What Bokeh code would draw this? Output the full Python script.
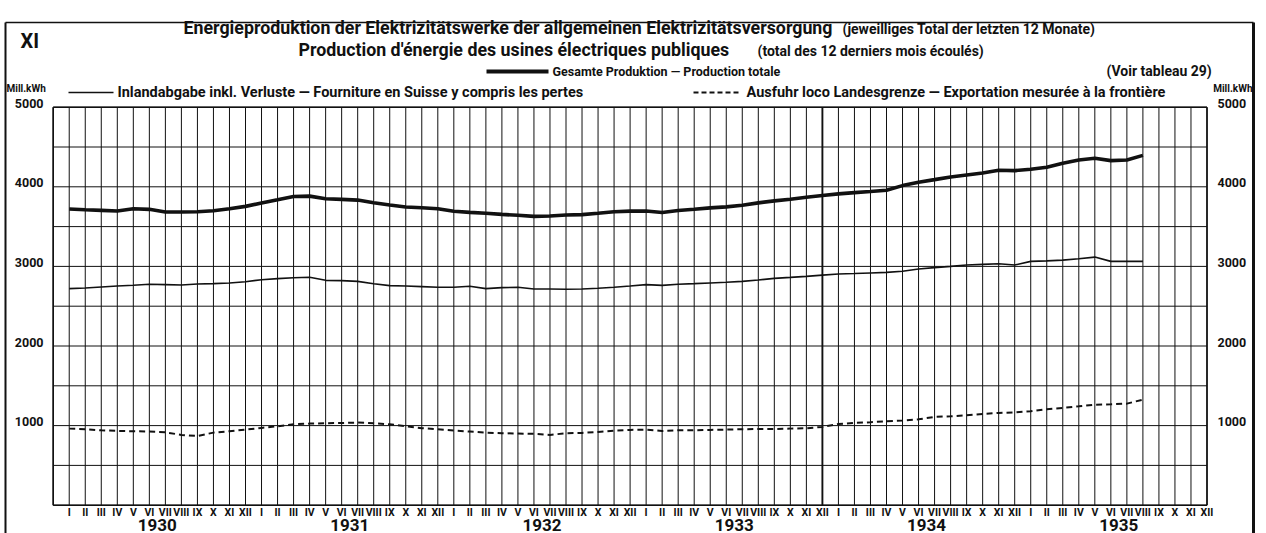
from bokeh.plotting import figure
from bokeh.models import Range1d
from bokeh.core.properties import value
from bokeh.embed import file_html
from bokeh.resources import INLINE

# ---------------- data (Mill. kWh, total of last 12 months) ----------------
month_names = ["I", "II", "III", "IV", "V", "VI", "VII", "VIII", "IX", "X", "XI", "XII"]
years = ["1930", "1931", "1932", "1933", "1934", "1935"]

# Jan 1930 .. Aug 1935 (68 months)
total = [3721, 3712, 3704, 3696, 3725, 3717, 3683, 3683, 3687, 3700, 3725, 3754,
         3796, 3837, 3879, 3883, 3850, 3842, 3833, 3800, 3771, 3746, 3737, 3725,
         3692, 3679, 3667, 3654, 3642, 3629, 3633, 3646, 3650, 3667, 3687, 3695,
         3695, 3677, 3702, 3718, 3735, 3748, 3768, 3798, 3823, 3844, 3869, 3890,
         3911, 3927, 3940, 3957, 4015, 4057, 4090, 4124, 4149, 4174, 4207, 4203,
         4220, 4245, 4295, 4337, 4358, 4329, 4337, 4395]
inland = [2721, 2729, 2742, 2754, 2763, 2775, 2771, 2767, 2779, 2783, 2792, 2808,
          2833, 2846, 2858, 2863, 2825, 2821, 2812, 2783, 2758, 2754, 2746, 2738,
          2738, 2750, 2721, 2733, 2738, 2717, 2717, 2713, 2717, 2725, 2738, 2754,
          2771, 2762, 2775, 2783, 2792, 2800, 2812, 2829, 2850, 2862, 2875, 2890,
          2904, 2910, 2918, 2925, 2940, 2967, 2985, 3000, 3017, 3025, 3033, 3017,
          3063, 3070, 3079, 3096, 3117, 3063, 3063, 3063]
export = [962, 954, 941, 933, 929, 925, 916, 883, 870, 912, 929, 950,
          971, 992, 1017, 1025, 1029, 1033, 1038, 1029, 1017, 992, 967, 954,
          937, 925, 912, 904, 900, 896, 883, 904, 908, 921, 937, 946,
          950, 933, 941, 941, 946, 950, 954, 958, 958, 962, 967, 983,
          1021, 1033, 1042, 1054, 1063, 1079, 1109, 1117, 1130, 1146, 1159, 1167,
          1180, 1205, 1222, 1242, 1263, 1268, 1276, 1326]
y_ticks = [1000, 2000, 3000, 4000, 5000]

# ---------------- geometry ----------------
W, H = 1266, 533
K = 16.025      # px per month
X0 = 52.7       # picture x of month 0
Y0 = 504.7      # picture y of value 0
S = 0.0796      # px per Mill. kWh
x_lo = (0 - X0) / K
x_hi = x_lo + W / K
y_hi = (Y0 - 0) / S
y_lo = y_hi - H / S


def dx(px):
    return (px - X0) / K


def dy(py):
    return (Y0 - py) / S


F = value("Roboto")
INK = "#111111"

p = figure(width=W, height=H, x_range=Range1d(x_lo, x_hi), y_range=Range1d(y_lo, y_hi),
           output_backend="svg", toolbar_location=None,
           x_axis_location=None, y_axis_location=None,
           min_border=0, outline_line_color=None)
p.grid.visible = False
p.background_fill_color = "white"

n_months = 12 * len(years)
months = list(range(1, len(total) + 1))

# grid: month verticals and 500-step horizontals
vx = list(range(0, n_months + 1))
vw = [1.9 if m == 48 else 1 for m in vx]
p.segment(x0=vx, y0=[0] * len(vx), x1=vx, y1=[5000] * len(vx),
          line_color=INK, line_width=vw)
hy = list(range(0, 5001, 500))
p.segment(x0=[0] * len(hy), y0=hy, x1=[n_months] * len(hy), y1=hy,
          line_color=INK, line_width=1)
# plot border
p.segment(x0=[0, n_months, 0, 0], y0=[0, 0, 0, 5000], x1=[0, n_months, n_months, n_months],
          y1=[5000, 5000, 0, 5000], line_color=INK, line_width=1.6)

# series
p.line(months, export, line_color=INK, line_width=2, line_dash="6 4")
p.line(months, inland, line_color=INK, line_width=1.6)
p.line(months, total, line_color=INK, line_width=3.6)

# outer frame of the sheet
p.segment(x0=[dx(5), dx(5), dx(1253)], y0=[dy(22), dy(22), dy(22)],
          x1=[dx(1253), dx(5), dx(1253)], y1=[dy(22), dy(540), dy(540)],
          line_color=INK, line_width=[1.5, 2, 3])

# month and year labels
mlabels = [month_names[(m - 1) % 12] for m in range(1, n_months + 1)]
p.text(x=list(range(1, n_months + 1)), y=[dy(512)] * n_months, text=mlabels,
       text_font=F, text_font_size="10.5px", text_font_style="bold",
       text_align="center", text_baseline="middle", text_color=INK)
p.text(x=[6.5 + 12 * i for i in range(len(years))], y=[dy(524)] * len(years), text=years,
       text_font=F, text_font_size="17px", text_font_style="bold",
       text_align="center", text_baseline="middle", text_color=INK)

# y tick labels, left and right
p.text(x=[dx(43)] * len(y_ticks), y=[t + 4 / S for t in y_ticks], text=[str(t) for t in y_ticks],
       text_font=F, text_font_size="12.5px", text_font_style="bold",
       text_align="right", text_baseline="middle", text_color=INK)
p.text(x=[dx(1217)] * len(y_ticks), y=[t + 4 / S for t in y_ticks], text=[str(t) for t in y_ticks],
       text_font=F, text_font_size="12.5px", text_font_style="bold",
       text_align="left", text_baseline="middle", text_color=INK)
p.text(x=[dx(6), dx(1252)], y=[dy(88), dy(88)], text=["Mill.kWh", "Mill.kWh"],
       text_font=F, text_font_size="10px", text_font_style="bold",
       text_align=["left", "right"], text_baseline="middle", text_color=INK)

# sheet number
p.text(x=[dx(20)], y=[dy(40)], text=["XI"], text_font=F, text_font_size="20px",
       text_font_style="bold", text_align="left", text_baseline="middle", text_color=INK)

# titles
p.text(x=[dx(183), dx(298)], y=[dy(27), dy(49)],
       text=["Energieproduktion der Elektrizitätswerke der allgemeinen Elektrizitätsversorgung",
             "Production d'énergie des usines électriques publiques"],
       text_font=F, text_font_size="17.8px", text_font_style="bold",
       text_align="left", text_baseline="middle", text_color=INK)
p.text(x=[dx(842), dx(757)], y=[dy(28), dy(50)],
       text=["(jeweilliges Total der letzten 12 Monate)",
             "(total des 12 derniers mois écoulés)"],
       text_font=F, text_font_size="14px", text_font_style="bold",
       text_align="left", text_baseline="middle", text_color=INK)

# legend
p.line([dx(486), dx(548)], [dy(71), dy(71)], line_color=INK, line_width=3.8)
p.line([dx(68), dx(113)], [dy(92), dy(92)], line_color=INK, line_width=1.6)
p.line([dx(693), dx(740)], [dy(92), dy(92)], line_color=INK, line_width=2, line_dash="5 3")
p.text(x=[dx(552)], y=[dy(71)], text=["Gesamte Produktion — Production totale"],
       text_font=F, text_font_size="12.5px", text_font_style="bold",
       text_align="left", text_baseline="middle", text_color=INK)
p.text(x=[dx(117), dx(746)], y=[dy(92), dy(92)],
       text=["Inlandabgabe inkl. Verluste — Fourniture en Suisse y compris les pertes",
             "Ausfuhr loco Landesgrenze — Exportation mesurée à la frontière"],
       text_font=F, text_font_size="14.5px", text_font_style="bold",
       text_align="left", text_baseline="middle", text_color=INK)
p.text(x=[dx(1106)], y=[dy(70)], text=["(Voir tableau 29)"],
       text_font=F, text_font_size="14px", text_font_style="bold",
       text_align="left", text_baseline="middle", text_color=INK)

open("out.html", "w").write(file_html(p, INLINE))
